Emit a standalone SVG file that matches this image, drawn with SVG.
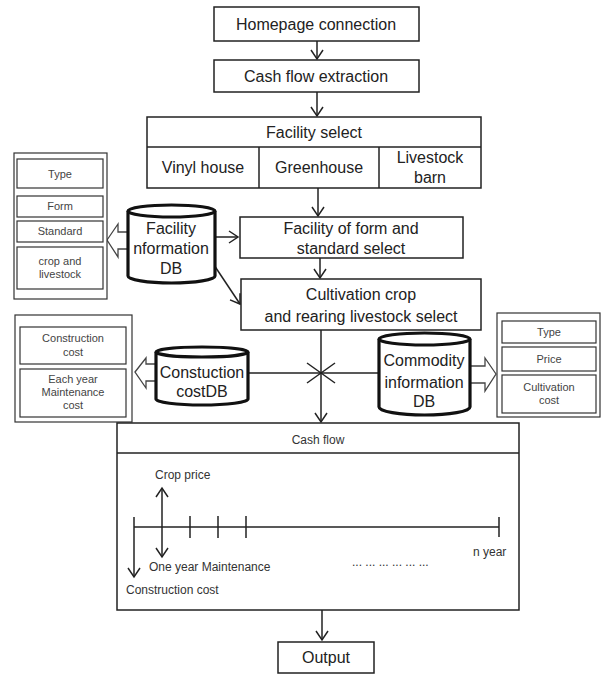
<svg xmlns="http://www.w3.org/2000/svg" width="604" height="674" viewBox="0 0 604 674">
  <style>
    .box { fill: #fff; stroke: #222; stroke-width: 1.5; }
    .thin { fill: #fff; stroke: #333; stroke-width: 1.2; }
    .db { fill: #fff; stroke: #111; stroke-width: 3.2; }
    .t { font-family: "Liberation Sans", Arial, sans-serif; font-size: 16px; fill: #222; text-anchor: middle; }
    .s { font-family: "Liberation Sans", Arial, sans-serif; font-size: 11px; fill: #444; text-anchor: middle; }
    .c { font-family: "Liberation Sans", Arial, sans-serif; font-size: 12px; fill: #333; }
    .ln { fill: none; stroke: #222; stroke-width: 1.5; }
    .hollow { fill: #fff; stroke: #444; stroke-width: 1.3; }
  </style>
  <defs>
    <marker id="arr" markerWidth="14" markerHeight="14" refX="10" refY="7" orient="auto" markerUnits="userSpaceOnUse">
      <path d="M1,1 L10,7 L1,13" fill="none" stroke="#222" stroke-width="1.5"/>
    </marker>
  </defs>
  <rect width="604" height="674" fill="#fff"/>

  <!-- connectors -->
  <g id="connectors">
    <line class="ln" x1="317" y1="41" x2="317" y2="59" marker-end="url(#arr)"/>
    <line class="ln" x1="317" y1="92" x2="317" y2="116" marker-end="url(#arr)"/>
    <line class="ln" x1="318" y1="188" x2="318" y2="216" marker-end="url(#arr)"/>
    <line class="ln" x1="320" y1="258" x2="320" y2="278" marker-end="url(#arr)"/>
    <line class="ln" x1="215" y1="237" x2="238" y2="237" marker-end="url(#arr)"/>
    <line class="ln" x1="212" y1="262" x2="240" y2="304" marker-end="url(#arr)"/>
    <line class="ln" x1="248" y1="373" x2="379" y2="373"/>
    <line class="ln" x1="321" y1="330" x2="321" y2="422" marker-end="url(#arr)"/>
    <line class="ln" x1="307" y1="363" x2="335" y2="383"/>
    <line class="ln" x1="307" y1="383" x2="335" y2="363"/>
    <line class="ln" x1="322" y1="610" x2="322" y2="640" marker-end="url(#arr)"/>
    <!-- hollow block arrows -->
    <path class="hollow" d="M107,240 L118,224 L118,232 L128,232 L128,249 L118,249 L118,257 Z"/>
    <path class="hollow" d="M135,372 L146,358 L146,364 L157,364 L157,381 L146,381 L146,388 Z"/>
    <path class="hollow" d="M496,374 L485,358 L485,366 L470,366 L470,383 L485,383 L485,391 Z"/>
  </g>

  <g id="homepage">
    <rect class="box" x="214" y="7" width="205" height="34"/>
    <text class="t" x="316" y="30">Homepage connection</text>
  </g>

  <g id="extraction">
    <rect class="box" x="214" y="60" width="205" height="32"/>
    <text class="t" x="316" y="82">Cash flow extraction</text>
  </g>

  <g id="facility-select">
    <rect class="box" x="147" y="117" width="334" height="71"/>
    <line class="ln" x1="147" y1="147" x2="481" y2="147"/>
    <line class="ln" x1="259" y1="147" x2="259" y2="188"/>
    <line class="ln" x1="379" y1="147" x2="379" y2="188"/>
    <text class="t" x="314" y="138">Facility select</text>
    <text class="t" x="203" y="173">Vinyl house</text>
    <text class="t" x="319" y="173">Greenhouse</text>
    <text class="t" x="430" y="163">Livestock</text>
    <text class="t" x="430" y="183">barn</text>
  </g>

  <g id="form-standard">
    <rect class="box" x="240" y="217" width="223" height="41"/>
    <text class="t" x="351" y="234">Facility of form and</text>
    <text class="t" x="351" y="254">standard select</text>
  </g>

  <g id="cultivation">
    <rect class="box" x="241" y="279" width="240" height="51"/>
    <text class="t" x="361" y="300">Cultivation crop</text>
    <text class="t" x="361" y="322">and rearing livestock select</text>
  </g>

  <g id="facility-db">
    <path class="db" d="M128,211 A43.5,6 0 0 1 215,211 L215,276 A43.5,7 0 0 1 128,276 Z"/>
    <path class="db" d="M128,211 A43.5,6 0 0 0 215,211" stroke-width="2"/>
    <text class="t" x="171" y="234">Facility</text>
    <text class="t" x="171" y="254">nformation</text>
    <text class="t" x="171" y="274">DB</text>
  </g>

  <g id="facility-items">
    <rect class="thin" x="14" y="153" width="93" height="146"/>
    <rect class="thin" x="17" y="159" width="86" height="29"/>
    <text class="s" x="60" y="178">Type</text>
    <rect class="thin" x="17" y="196" width="86" height="21"/>
    <text class="s" x="60" y="210">Form</text>
    <rect class="thin" x="17" y="221" width="86" height="21"/>
    <text class="s" x="60" y="235">Standard</text>
    <rect class="thin" x="17" y="247" width="86" height="42"/>
    <text class="s" x="60" y="265">crop and</text>
    <text class="s" x="60" y="278">livestock</text>
  </g>

  <g id="construction-db">
    <path class="db" d="M156,352 A46,5 0 0 1 248,352 L248,399 A46,6 0 0 1 156,399 Z"/>
    <path class="db" d="M156,352 A46,5 0 0 0 248,352" stroke-width="2"/>
    <text class="t" x="202" y="378">Constuction</text>
    <text class="t" x="202" y="397">costDB</text>
  </g>

  <g id="construction-items">
    <rect class="thin" x="15" y="315" width="117" height="107"/>
    <rect class="thin" x="20" y="327" width="106" height="37"/>
    <text class="s" x="73" y="342">Construction</text>
    <text class="s" x="73" y="356">cost</text>
    <rect class="thin" x="20" y="369" width="106" height="48"/>
    <text class="s" x="73" y="383">Each year</text>
    <text class="s" x="73" y="396">Maintenance</text>
    <text class="s" x="73" y="409">cost</text>
  </g>

  <g id="commodity-db">
    <path class="db" d="M379,339 A45.5,6 0 0 1 470,339 L470,407 A45.5,8 0 0 1 379,407 Z"/>
    <path class="db" d="M379,339 A45.5,6 0 0 0 470,339" stroke-width="2"/>
    <text class="t" x="424" y="366">Commodity</text>
    <text class="t" x="424" y="388">information</text>
    <text class="t" x="424" y="407">DB</text>
  </g>

  <g id="commodity-items">
    <rect class="thin" x="497" y="313" width="103" height="104"/>
    <rect class="thin" x="502" y="321" width="94" height="22"/>
    <text class="s" x="549" y="336">Type</text>
    <rect class="thin" x="502" y="347" width="94" height="24"/>
    <text class="s" x="549" y="363">Price</text>
    <rect class="thin" x="502" y="375" width="94" height="38"/>
    <text class="s" x="549" y="391">Cultivation</text>
    <text class="s" x="549" y="404">cost</text>
  </g>

  <g id="cash-flow">
    <rect class="box" x="117" y="423" width="402" height="187"/>
    <line class="ln" x1="117" y1="453" x2="519" y2="453"/>
    <text class="c" x="318" y="444" text-anchor="middle">Cash flow</text>
    <!-- timeline -->
    <line class="ln" x1="134" y1="527" x2="499" y2="527"/>
    <line class="ln" x1="134" y1="517" x2="134" y2="577" marker-end="url(#arr)"/>
    <line class="ln" x1="190" y1="516" x2="190" y2="538"/>
    <line class="ln" x1="218" y1="516" x2="218" y2="538"/>
    <line class="ln" x1="246" y1="516" x2="246" y2="538"/>
    <line class="ln" x1="499" y1="517" x2="499" y2="537"/>
    <line class="ln" x1="162" y1="507" x2="162" y2="557" marker-end="url(#arr)"/>
    <line class="ln" x1="162" y1="507" x2="162" y2="488" marker-end="url(#arr)"/>
    <text class="c" x="155" y="479">Crop  price</text>
    <text class="c" x="149" y="571">One  year  Maintenance</text>
    <text class="c" x="126" y="594">Construction   cost</text>
    <text class="c" x="473" y="556">n year</text>
    <text class="c" x="352" y="566" font-size="9" fill="#555">... ... ... ... ... ...</text>
  </g>

  <g id="output">
    <rect class="box" x="278" y="642" width="96" height="31"/>
    <text class="t" x="326" y="663">Output</text>
  </g>
</svg>
